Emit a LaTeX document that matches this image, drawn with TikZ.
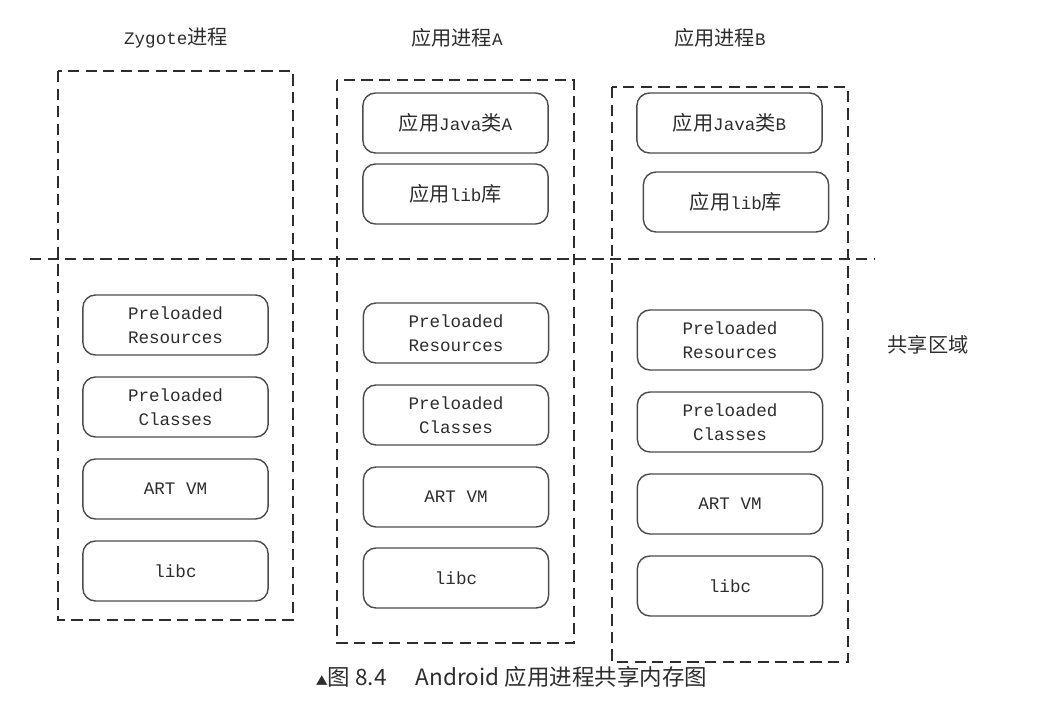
\documentclass[tikz,border=0pt]{standalone}
\usepackage{fontspec}
\setmonofont{Liberation Mono}
\newfontfamily\cjk[Scale=1.15]{Noto Sans CJK SC}
\newfontfamily\capfont{Noto Sans CJK SC}
\usepackage{tikz}

\tikzset{
  procbox/.style={draw=linecolor, line width=1.1pt, dash pattern=on 8pt off 4.5pt},
  membox/.style={draw=boxcolor, line width=1pt, rounded corners=9pt,
    minimum width=4.63cm, minimum height=1.5cm, align=center, text=textcolor,
    font=\fontsize{12.5}{17}\selectfont\ttfamily},
  proctitle/.style={text=textcolor, font=\fontsize{12.5}{15}\selectfont\ttfamily},
}

\begin{document}
\begin{tikzpicture}[x=0.025cm, y=-0.025cm]

\definecolor{linecolor}{RGB}{45, 45, 45}
\definecolor{boxcolor}{RGB}{75, 75, 75}
\definecolor{textcolor}{RGB}{45, 45, 45}

\useasboundingbox (0, 0) rectangle (1052, 716);

\draw[procbox] (58, 71) rectangle (293, 620);
\draw[procbox] (337, 80) rectangle (574, 643);
\draw[procbox] (612, 87) rectangle (848, 662);
\draw[procbox] (30, 259) -- (875, 259);

\node[proctitle] (zygotetitle) at (176, 38) {Zygote{\cjk 进程}};
\node[proctitle] (apptitleA) at (457, 38) {{\cjk 应用进程}A};
\node[proctitle] (apptitleB) at (720, 38) {{\cjk 应用进程}B};

\node[membox] (zres) at (175.5, 325) {Preloaded\\Resources};
\node[membox] (zcls) at (175.5, 407) {Preloaded\\Classes};
\node[membox] (zvm) at (175.5, 489) {ART VM};
\node[membox] (zlibc) at (175.5, 571) {libc};

\node[membox] (ajava) at (455.5, 123) {{\cjk 应用}Java{\cjk 类}A};
\node[membox] (alib) at (455.5, 194) {{\cjk 应用}lib{\cjk 库}};
\node[membox] (ares) at (456, 333) {Preloaded\\Resources};
\node[membox] (acls) at (456, 415) {Preloaded\\Classes};
\node[membox] (avm) at (456, 497) {ART VM};
\node[membox] (alibc) at (456, 578) {libc};

\node[membox] (bjava) at (729.5, 123) {{\cjk 应用}Java{\cjk 类}B};
\node[membox] (blib) at (736, 202) {{\cjk 应用}lib{\cjk 库}};
\node[membox] (bres) at (730, 340) {Preloaded\\Resources};
\node[membox] (bcls) at (730, 422) {Preloaded\\Classes};
\node[membox] (bvm) at (730, 504) {ART VM};
\node[membox] (blibc) at (730, 586) {libc};

\node[proctitle] (sharedlabel) at (928, 345) {\cjk 共享区域};

\node[anchor=west, text=textcolor, font=\fontsize{16}{18}\selectfont\capfont] (caption) at (311, 677)
  {{\fontsize{8.5}{8}\selectfont ▲}图 8.4\hspace{1.3em}Android 应用进程共享内存图};

\end{tikzpicture}
\end{document}
